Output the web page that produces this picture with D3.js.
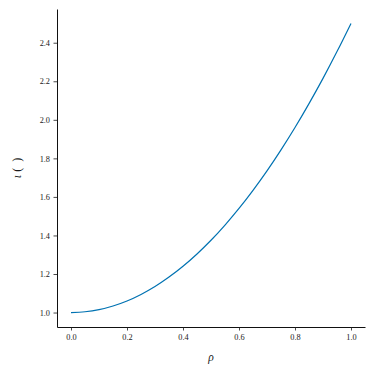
<!DOCTYPE html>
<html><head><meta charset="utf-8">
<script src="https://cdn.jsdelivr.net/npm/d3@7"></script>
<style>body{margin:0;background:#fff}svg{display:block}text{font-family:serif;fill:#1a1a1a}</style>
</head><body>
<svg id="c" width="374" height="374"></svg>
<script>
const rho = [0.0, 0.05, 0.1, 0.15, 0.2, 0.25, 0.3, 0.35, 0.4, 0.45, 0.5, 0.55, 0.6, 0.65, 0.7, 0.75, 0.8, 0.85, 0.9, 0.95, 1.0];
const iota = [1.000, 1.004, 1.015, 1.034, 1.060, 1.094, 1.135, 1.184, 1.240, 1.304, 1.375, 1.454, 1.540, 1.634, 1.735, 1.844, 1.960, 2.084, 2.215, 2.354, 2.500];
const xTicks = [0.0, 0.2, 0.4, 0.6, 0.8, 1.0];
const yTicks = [1.0, 1.2, 1.4, 1.6, 1.8, 2.0, 2.2, 2.4];

const svg = d3.select("#c");
const L = 57, R = 365, T = 9, B = 327;
const x = d3.scaleLinear().domain([-0.05, 1.05]).range([L, R]);
const y = d3.scaleLinear().domain([0.925, 2.575]).range([B, T]);

const xa = svg.append("g").attr("transform", `translate(0,${B})`)
  .call(d3.axisBottom(x).tickValues(xTicks).tickFormat(d3.format(".1f")).tickSize(3.5).tickPadding(3.5).tickSizeOuter(0));
const ya = svg.append("g").attr("transform", `translate(${L},0)`)
  .call(d3.axisLeft(y).tickValues(yTicks).tickFormat(d3.format(".1f")).tickSize(3.5).tickPadding(3.5).tickSizeOuter(0));
[xa, ya].forEach(g => {
  g.attr("font-family", "serif").attr("font-size", 8.3);
  g.selectAll("text").attr("fill", "#1a1a1a");
  g.selectAll("line").attr("stroke", "#1a1a1a").attr("stroke-width", 0.8);
  g.select(".domain").attr("stroke", "#111").attr("stroke-width", 1);
});

const pts = rho.map((r, i) => [r, iota[i]]);
svg.append("path").datum(pts)
  .attr("fill", "none").attr("stroke", "#0072B2").attr("stroke-width", 1.2)
  .attr("d", d3.line().x(d => x(d[0])).y(d => y(d[1])).curve(d3.curveMonotoneX));

svg.append("text").attr("x", (L + R) / 2).attr("y", 361).attr("text-anchor", "middle")
  .attr("font-size", 11.5).attr("font-style", "italic").text("ρ");
const yl = svg.append("text").attr("transform", `translate(21,${(T + B) / 2}) rotate(-90)`).attr("text-anchor", "middle")
  .attr("font-size", 12);
yl.append("tspan").attr("font-style", "italic").text("ι");
yl.append("tspan").text("\u00a0(\u2002)");
</script>
</body></html>
